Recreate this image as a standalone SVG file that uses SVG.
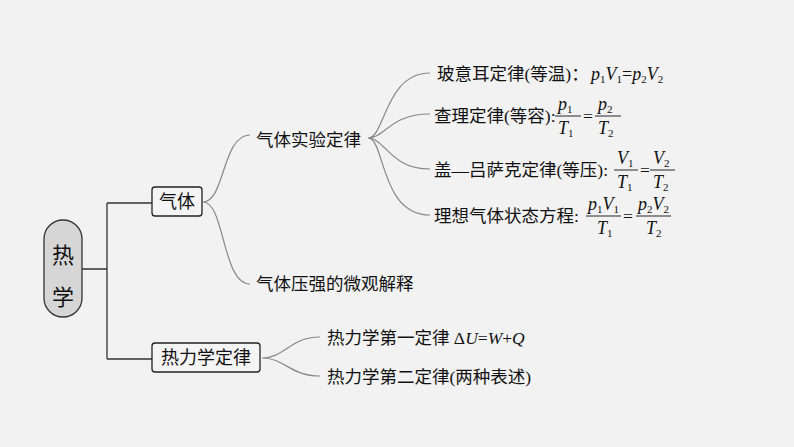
<svg xmlns="http://www.w3.org/2000/svg" width="794" height="447" viewBox="0 0 794 447">
<style>
.t{font-family:"Liberation Serif","Noto Sans CJK SC",serif;font-size:17.5px;fill:#111}
.m{font-family:"Liberation Serif",serif;font-style:italic;font-size:18px;fill:#111}
.s{font-size:11px;font-style:normal}
.c{fill:none;stroke:#888;stroke-width:1.2}
.k{fill:none;stroke:#333;stroke-width:1.3}
.b{fill:#f4f4f4;stroke:#222;stroke-width:1.3}
.fl{stroke:#111;stroke-width:0.9}
</style>
<rect width="794" height="447" fill="#f2f2f2"/>
<g id="connectors">
<path class="k" d="M82 269H107M107 203V359M107 203H152M107 359H152"/>
<path class="c" d="M203 202C225 202 222 135 250 135M203 202C225 202 222 284 250 284"/>
<path class="c" d="M368 138C385 138 385 73 430 73M368 138C385 138 390 114 430 114M368 138C385 138 390 169 430 169M368 138C385 138 380 215 430 215"/>
<path class="c" d="M262 358C285 358 290 337 320 337M262 358C285 358 290 376 320 376"/>
</g>
<g id="root"><rect x="44" y="220" width="38" height="97" rx="19" fill="#d6d6d6" stroke="#333" stroke-width="1.3"/>
<text class="t" x="63" y="263" text-anchor="middle" style="font-size:22px">热</text>
<text class="t" x="63" y="305" text-anchor="middle" style="font-size:22px">学</text></g>
<g id="gas"><rect class="b" x="152" y="187" width="50" height="29" rx="3"/><text class="t" x="177" y="208" text-anchor="middle" style="font-size:18px">气体</text></g>
<g id="thermo"><rect class="b" x="152" y="343" width="108" height="29" rx="3"/><text class="t" x="206" y="364" text-anchor="middle" style="font-size:18px">热力学定律</text></g>
<g id="exp"><text class="t" x="256" y="146">气体实验定律</text></g>
<g id="micro"><text class="t" x="256" y="290">气体压强的微观解释</text></g>
<g id="boyle"><text class="t" x="437" y="80">玻意耳定律(等温)：</text>
<text class="m" x="591" y="80">p<tspan class="s" dy="3">1</tspan><tspan dy="-3">V</tspan><tspan class="s" dy="3">1</tspan><tspan dy="-3" style="font-style:normal">=</tspan>p<tspan class="s" dy="3">2</tspan><tspan dy="-3">V</tspan><tspan class="s" dy="3">2</tspan></text></g>
<g id="charles"><text class="t" x="434" y="122">查理定律(等容):</text>
<text class="m" x="558" y="110">p<tspan class="s" dy="3">1</tspan></text><line class="fl" x1="555" y1="116" x2="581" y2="116"/><text class="m" x="558" y="134">T<tspan class="s" dy="3">1</tspan></text>
<text class="t" x="583" y="122">=</text>
<text class="m" x="598" y="110">p<tspan class="s" dy="3">2</tspan></text><line class="fl" x1="595" y1="116" x2="621" y2="116"/><text class="m" x="598" y="134">T<tspan class="s" dy="3">2</tspan></text></g>
<g id="gay"><text class="t" x="434" y="176">盖—吕萨克定律(等压):</text>
<text class="m" x="617" y="164">V<tspan class="s" dy="3">1</tspan></text><line class="fl" x1="614" y1="170" x2="638" y2="170"/><text class="m" x="617" y="188">T<tspan class="s" dy="3">1</tspan></text>
<text class="t" x="640" y="176">=</text>
<text class="m" x="653" y="164">V<tspan class="s" dy="3">2</tspan></text><line class="fl" x1="650" y1="170" x2="675" y2="170"/><text class="m" x="653" y="188">T<tspan class="s" dy="3">2</tspan></text></g>
<g id="ideal"><text class="t" x="434" y="222">理想气体状态方程:</text>
<text class="m" x="588" y="210">p<tspan class="s" dy="3">1</tspan><tspan dy="-3">V</tspan><tspan class="s" dy="3">1</tspan></text><line class="fl" x1="586" y1="216" x2="621" y2="216"/><text class="m" x="597" y="234">T<tspan class="s" dy="3">1</tspan></text>
<text class="t" x="623" y="222">=</text>
<text class="m" x="638" y="210">p<tspan class="s" dy="3">2</tspan><tspan dy="-3">V</tspan><tspan class="s" dy="3">2</tspan></text><line class="fl" x1="636" y1="216" x2="671" y2="216"/><text class="m" x="646" y="234">T<tspan class="s" dy="3">2</tspan></text></g>
<g id="first"><text class="t" x="327" y="344">热力学第一定律 Δ<tspan style="font-style:italic">U</tspan>=<tspan style="font-style:italic">W</tspan>+<tspan style="font-style:italic">Q</tspan></text></g>
<g id="second"><text class="t" x="327" y="383">热力学第二定律(两种表述)</text></g>
</svg>
